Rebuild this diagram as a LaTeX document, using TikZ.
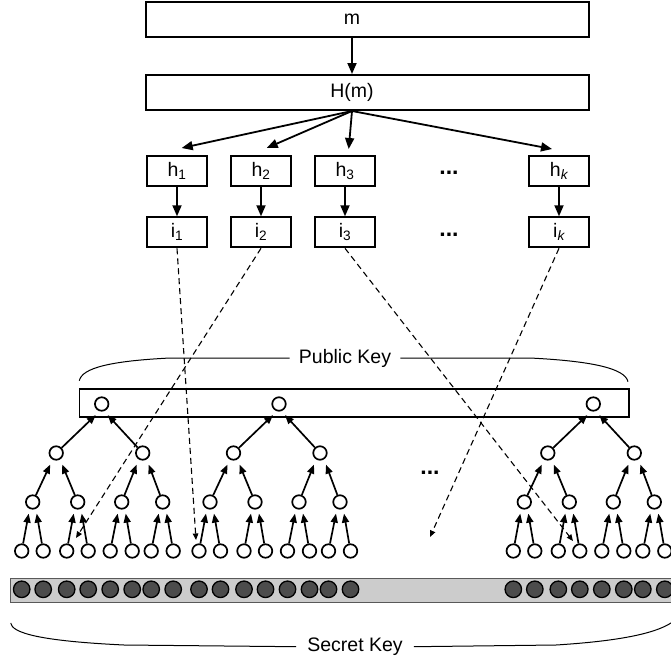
\documentclass[tikz,border=0pt]{standalone}
\usepackage{fontspec}
\setmainfont{Liberation Sans}
\usetikzlibrary{arrows.meta}

\tikzset{
	widebox/.style={draw, line width=2pt, minimum width=443pt, minimum height=35pt, inner sep=0pt},
	hashbox/.style={draw, line width=2pt, minimum width=60.5pt, minimum height=30pt, inner sep=0pt},
	txt/.style={font=\fontsize{19.5}{23}\selectfont, inner sep=0pt},
	dots/.style={font=\fontsize{23}{26}\selectfont\bfseries, inner sep=0pt},
	hasharrow/.style={line width=1.8pt, -{Triangle[length=11pt,width=9pt]}},
	treearrow/.style={line width=1.7pt, -{Triangle[length=9pt,width=7pt]}},
	pickarrow/.style={line width=1.1pt, dash pattern=on 6pt off 4pt, -{Triangle[length=6.5pt,width=5.5pt]}},
	keynode/.style={circle, draw, line width=1.7pt, fill=white, minimum size=13.5pt, inner sep=0pt},
	secretdot/.style={circle, draw, line width=1.3pt, fill=black!70, minimum size=16.5pt, inner sep=0pt},
}

% one hash tree with its secret values: #1 name, #2 x of the root
\def\keytree#1#2{
	\node[keynode] (#1) at (#2,404) {};
	\node[keynode] (#1a) at (#2-45.5,453) {};
	\node[keynode] (#1b) at (#2+41,453) {};
	\node[keynode] (#1aa) at (#2-69,502) {};
	\node[keynode] (#1ab) at (#2-24,502) {};
	\node[keynode] (#1ba) at (#2+20,502) {};
	\node[keynode] (#1bb) at (#2+61,502) {};
	\node[keynode] (#1aaa) at (#2-80,551) {};
	\node[keynode] (#1aab) at (#2-58.5,551) {};
	\node[keynode] (#1aba) at (#2-35,551) {};
	\node[keynode] (#1abb) at (#2-13.5,551) {};
	\node[keynode] (#1baa) at (#2+8.5,551) {};
	\node[keynode] (#1bab) at (#2+30.5,551) {};
	\node[keynode] (#1bba) at (#2+49.5,551) {};
	\node[keynode] (#1bbb) at (#2+71.5,551) {};
	\node[secretdot] (#1aaa-s) at (#2-80,589.3) {};
	\node[secretdot] (#1aab-s) at (#2-58.5,589.3) {};
	\node[secretdot] (#1aba-s) at (#2-35,589.3) {};
	\node[secretdot] (#1abb-s) at (#2-13.5,589.3) {};
	\node[secretdot] (#1baa-s) at (#2+8.5,589.3) {};
	\node[secretdot] (#1bab-s) at (#2+30.5,589.3) {};
	\node[secretdot] (#1bba-s) at (#2+49.5,589.3) {};
	\node[secretdot] (#1bbb-s) at (#2+71.5,589.3) {};
	\draw[treearrow] (#1a) -- ([shift={(-6,3.5)}]#1.south);
	\draw[treearrow] (#1b) -- ([shift={(6,3.5)}]#1.south);
	\draw[treearrow] (#1aa) -- ([shift={(-6,4)}]#1a.south);
	\draw[treearrow] (#1ab) -- ([shift={(6,4)}]#1a.south);
	\draw[treearrow] (#1ba) -- ([shift={(-6,4)}]#1b.south);
	\draw[treearrow] (#1bb) -- ([shift={(6,4)}]#1b.south);
	\draw[treearrow] (#1aaa) -- ([shift={(-4,4)}]#1aa.south);
	\draw[treearrow] (#1aab) -- ([shift={(4,4)}]#1aa.south);
	\draw[treearrow] (#1aba) -- ([shift={(-4,4)}]#1ab.south);
	\draw[treearrow] (#1abb) -- ([shift={(4,4)}]#1ab.south);
	\draw[treearrow] (#1baa) -- ([shift={(-4,4)}]#1ba.south);
	\draw[treearrow] (#1bab) -- ([shift={(4,4)}]#1ba.south);
	\draw[treearrow] (#1bba) -- ([shift={(-4,4)}]#1bb.south);
	\draw[treearrow] (#1bbb) -- ([shift={(4,4)}]#1bb.south);
}

\begin{document}
\begin{tikzpicture}[x=1pt, y=-1pt]
	\useasboundingbox (0,0) rectangle (671,661);
	
	%%%%% message and hash %%%%%
	\node[widebox] (m) at (367.5,19.5) {};
	\node[txt] (mtxt) at (352,19.5) {m};
	\node[widebox] (Hm) at (367.5,92.5) {};
	\node[txt] (Hmtxt) at (352,92.5) {H(m)};
	\draw[hasharrow] (m.south -| mtxt) -- (Hm.north -| mtxt);
	
	\node[hashbox, txt] (h1) at (177,171) {h\textsubscript{1}};
	\node[hashbox, txt] (h2) at (261,171) {h\textsubscript{2}};
	\node[hashbox, txt] (h3) at (345,171) {h\textsubscript{3}};
	\node[hashbox, txt] (hk) at (559,171) {h\textsubscript{\itshape k}};
	\node[dots] (hdots) at (449,173) {...};
	
	\node[hashbox, txt] (i1) at (177,232.3) {i\textsubscript{1}};
	\node[hashbox, txt] (i2) at (261,232.3) {i\textsubscript{2}};
	\node[hashbox, txt] (i3) at (345,232.3) {i\textsubscript{3}};
	\node[hashbox, txt] (ik) at (559,232.3) {i\textsubscript{\itshape k}};
	\node[dots] (idots) at (449,235) {...};
	
	\draw[hasharrow] (Hm.south -| Hmtxt) -- ([shift={(4.7,-7)}]h1.north);
	\draw[hasharrow] (Hm.south -| Hmtxt) -- ([shift={(5.7,-7)}]h2.north);
	\draw[hasharrow] (Hm.south -| Hmtxt) -- ([shift={(3.7,-6)}]h3.north);
	\draw[hasharrow] (Hm.south -| Hmtxt) -- ([shift={(-7,-6)}]hk.north);
	\draw[hasharrow] (h1) -- (i1);
	\draw[hasharrow] (h2) -- (i2);
	\draw[hasharrow] (h3) -- (i3);
	\draw[hasharrow] (hk) -- (ik);
	
	%%%%% public key %%%%%
	\node[txt, inner xsep=9pt] (pk) at (345,358) {Public Key};
	\draw[line width=1pt] (pk.west) -- (170,358) .. controls (110,361) and (82,368) .. (79.3,380.7);
	\draw[line width=1pt] (pk.east) -- (530,358) .. controls (590,361) and (625,368) .. (628,381.7);
	\draw[line width=1.2pt] (79.3,389) rectangle (629,417);
	
	%%%%% secret key %%%%%
	\draw[line width=1.5pt, draw=black!65, fill=black!20] (10.7,578.3) rectangle (690,602.3);
	\node[txt, inner xsep=11pt] (sk) at (355,646.7) {Secret Key};
	\draw[line width=1pt] (sk.west) -- (124,645) .. controls (40,641) and (12,633) .. (10.7,623);
	\draw[line width=1pt] (sk.east) -- (556,645) .. controls (620,641) and (660,633) .. (675,620);
	
	%%%%% trees %%%%%
	\keytree{ta}{101.7}
	\keytree{tb}{279}
	\keytree{tc}{593.3}
	\node[dots] (tdots) at (430,473) {...};
	
	%%%%% chosen leaves %%%%%
	\coordinate (p1) at (196,540);
	\coordinate (p2) at (76,538);
	\coordinate (p3) at (573,541);
	\coordinate (pk-end) at (430,537);
	\draw[pickarrow] (i1.south) -- (p1);
	\draw[pickarrow] (i2.south) -- (p2);
	\draw[pickarrow] (i3.south) -- (p3);
	\draw[pickarrow] (ik.south) -- (pk-end);
\end{tikzpicture}
\end{document}
